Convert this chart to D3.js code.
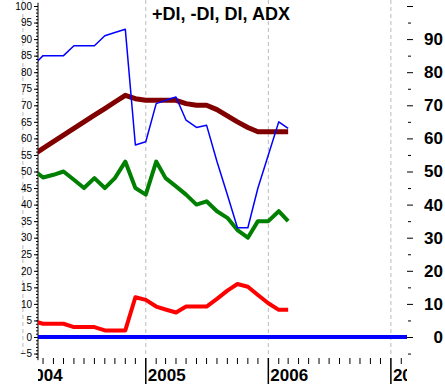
<!DOCTYPE html>
<html>
<head>
<meta charset="utf-8">
<script src="https://cdn.jsdelivr.net/npm/d3@7"></script>
<style>
  body { margin: 0; background: #fff; }
  svg { display: block; font-family: "Liberation Sans", Arial, sans-serif; }
</style>
</head>
<body>
<svg id="chart" width="445" height="385"></svg>
<script>
// monthly points, Feb 2004 .. Mar 2006
const months = ['2004-02','2004-03','2004-04','2004-05','2004-06','2004-07','2004-08','2004-09','2004-10','2004-11','2004-12',
  '2005-01','2005-02','2005-03','2005-04','2005-05','2005-06','2005-07','2005-08','2005-09','2005-10','2005-11','2005-12',
  '2006-01','2006-02','2006-03'];
const plusDI  = [82, 85, 85, 85, 88, 88, 88, 91, 92, 93, 58, 59, 70.5, 71.5, 72.5, 65.5, 63.3, 64, 53, 43, 33, 33, 45, 55, 65, 63];
const minusDI = [4.8, 4, 4, 4, 3, 3, 3, 2, 2, 2, 12, 11.2, 9.2, 8.3, 7.4, 9.2, 9.2, 9.2, 11.5, 14, 16, 15.2, 12.7, 10.2, 8.2, 8.2];
const di      = [50.5, 48.2, 49, 50, 47.5, 45, 48, 45, 48, 53, 45, 43, 53, 48, 45.5, 43, 40, 41, 38, 36, 32.3, 30, 35, 35, 38, 35];
const adx     = [55, 57, 59, 61, 63, 65, 67, 69, 71, 73, 72, 71.5, 71.5, 71.5, 71.5, 70.5, 70, 70, 68.7, 66.8, 65, 63.3, 62, 62, 62, 62];
const zeroLine = [['2004-01', 0], ['2007-03', 0]];
const years = ['2004', '2005', '2006', '2007'];
const leftTicks = d3.range(-5, 101, 5);
const rightLabels = d3.range(0, 91, 10);

const parse = d3.timeParse('%Y-%m');
const svg = d3.select('#chart');

const x = d3.scaleTime()
  .domain([new Date(2004, 1, 15), new Date(2007, 1, 18)])
  .range([38, 407]);
const y = d3.scaleLinear().domain([0, 100]).range([337, 6]);

svg.append('defs').append('clipPath').attr('id', 'plot')
  .append('rect').attr('x', 38).attr('y', 0).attr('width', 369).attr('height', 385);

// year grid lines
svg.append('g').selectAll('line')
  .data(years)
  .join('line')
    .attr('x1', d => x(parse(d + '-01')))
    .attr('x2', d => x(parse(d + '-01')))
    .attr('y1', 0)
    .attr('y2', 356)
    .attr('stroke', '#bbb')
    .attr('stroke-dasharray', '4,3');

// title
svg.append('text')
  .attr('x', 221)
  .attr('y', 20)
  .attr('text-anchor', 'middle')
  .attr('font-size', 18)
  .attr('font-weight', 'bold')
  .text('+DI, -DI, DI, ADX');

// left axis
const leftAxis = svg.append('g')
  .attr('transform', 'translate(38,0)')
  .call(d3.axisLeft(y).tickValues(leftTicks).tickSize(4).tickSizeOuter(0).tickPadding(2));
leftAxis.select('.domain').attr('d', `M0,${y(-7)}V${y(101)}`);
leftAxis.selectAll('text').attr('font-size', 10).attr('font-family', '"Liberation Sans", Arial, sans-serif');
svg.append('g').attr('transform', 'translate(38,0)')
  .call(d3.axisLeft(y).tickValues(d3.range(-6, 101, 1)).tickSize(2).tickFormat(''))
  .select('.domain').remove();

// right axis
const rightAxis = svg.append('g')
  .attr('transform', 'translate(407,0)')
  .call(d3.axisRight(y).tickValues(leftTicks).tickSize(6)
    .tickFormat(d => rightLabels.includes(d) ? d : ''));
rightAxis.select('.domain').remove();
rightAxis.selectAll('.tick line')
  .attr('x1', d => d % 10 === 0 ? 0 : 1)
  .attr('x2', d => d % 10 === 0 ? 6 : 4);
rightAxis.selectAll('text')
  .attr('x', 36)
  .attr('text-anchor', 'end')
  .attr('font-size', 17)
  .attr('font-weight', 'bold')
  .attr('font-family', '"Liberation Sans", Arial, sans-serif');

// bottom axis: month ticks and year labels
const bottom = svg.append('g').attr('clip-path', 'url(#plot)');
bottom.selectAll('line.month')
  .data(d3.timeMonth.range(new Date(2004, 1, 1), new Date(2007, 2, 1)))
  .join('line')
    .attr('class', 'month')
    .attr('x1', d => x(d))
    .attr('x2', d => x(d))
    .attr('y1', 358)
    .attr('y2', d => d.getMonth() === 0 ? 384 : 364)
    .attr('stroke', '#000')
    .attr('stroke-width', d => d.getMonth() === 0 ? 1.5 : 1);
bottom.selectAll('text')
  .data(years)
  .join('text')
    .attr('x', d => x(parse(d + '-01')) + 2)
    .attr('y', 381)
    .attr('font-size', 17)
    .attr('font-weight', 'bold')
    .text(d => d);

// series
const line = d3.line()
  .x(d => x(parse(d[0])))
  .y(d => y(d[1]));
const plot = svg.append('g').attr('clip-path', 'url(#plot)');
const series = [
  { values: zeroLine, color: '#0000ff', width: 4 },
  { values: d3.zip(months, minusDI), color: '#ff0000', width: 4 },
  { values: d3.zip(months, di), color: '#008000', width: 4 },
  { values: d3.zip(months, adx), color: '#800000', width: 5 },
  { values: d3.zip(months, plusDI), color: '#0000ff', width: 1.5 }
];
plot.selectAll('path')
  .data(series)
  .join('path')
    .attr('d', d => line(d.values))
    .attr('fill', 'none')
    .attr('stroke', d => d.color)
    .attr('stroke-width', d => d.width)
    .attr('stroke-linejoin', 'round');
// zero line stops at plot edge
</script>
</body>
</html>
